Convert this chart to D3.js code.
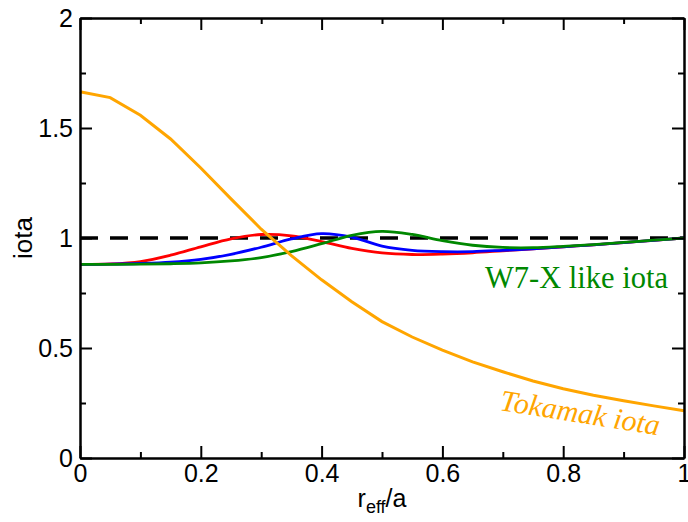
<!DOCTYPE html>
<html><head><meta charset="utf-8">
<script src="https://cdn.jsdelivr.net/npm/d3@7"></script>
<style>body{margin:0;background:#fff}svg{display:block}</style>
</head><body><svg id="c" width="688" height="522"></svg>
<script>
const xs = [0,0.05,0.1,0.15,0.2,0.25,0.3,0.35,0.4,0.45,0.5,0.55,0.6,0.65,0.7,0.75,0.8,0.85,0.9,0.95,1.0];
const tokamak = [1.665,1.638,1.558,1.45,1.318,1.178,1.04,0.92,0.81,0.71,0.62,0.55,0.49,0.437,0.392,0.35,0.315,0.285,0.26,0.237,0.215];
const w7xRed   = [0.880,0.882,0.893,0.922,0.960,0.996,1.016,1.010,0.984,0.953,0.932,0.925,0.927,0.933,0.942,0.951,0.960,0.969,0.979,0.989,1.0];
const w7xBlue  = [0.880,0.881,0.884,0.890,0.903,0.926,0.958,0.996,1.020,1.004,0.963,0.944,0.938,0.938,0.944,0.951,0.960,0.969,0.979,0.989,1.0];
const w7xGreen = [0.880,0.880,0.881,0.883,0.887,0.896,0.911,0.938,0.974,1.012,1.030,1.016,0.988,0.967,0.957,0.956,0.962,0.970,0.980,0.990,1.0];
const refLine = [1,1];
const refX = [0,1];
const xMajor = [0,0.2,0.4,0.6,0.8,1];
const xMajorLabels = ["0","0.2","0.4","0.6","0.8","1"];
const xMinor = [0.1,0.3,0.5,0.7,0.9];
const yMajor = [0,0.5,1,1.5,2];
const yMajorLabels = ["0","0.5","1","1.5","2"];
const yMinor = [0.25,0.75,1.25,1.75];

const svg = d3.select("#c");
const L=80,T=18,W=604,H=440;
const x = d3.scaleLinear().domain([0,1]).range([L,L+W]);
const y = d3.scaleLinear().domain([0,2]).range([T+H,T]);
const font = "'Liberation Sans', Arial, Helvetica, sans-serif";
const serif = "'Liberation Serif','Times New Roman',serif";

const g = svg.append("g");
g.append("path").datum(refX.map((d,i)=>[d,refLine[i]]))
 .attr("d", d3.line().x(d=>x(d[0])).y(d=>y(d[1])))
 .attr("fill","none").attr("stroke","#000").attr("stroke-width",3.5).attr("stroke-dasharray","18,12");

const smooth = d3.line().x(d=>x(d[0])).y(d=>y(d[1])).curve(d3.curveCatmullRom.alpha(0.5));
[[w7xRed,"#ff0000"],[w7xBlue,"#0000ff"],[w7xGreen,"#008800"]].forEach(([vals,col])=>{
  g.append("path").datum(xs.map((d,i)=>[d,vals[i]])).attr("d",smooth)
   .attr("fill","none").attr("stroke",col).attr("stroke-width",2.8);
});
g.append("path").datum(xs.map((d,i)=>[d,tokamak[i]]))
 .attr("d", d3.line().x(d=>x(d[0])).y(d=>y(d[1])))
 .attr("fill","none").attr("stroke","#ffa500").attr("stroke-width",3);

function styleAxis(sel){
  sel.selectAll("path.domain").attr("stroke","#000").attr("stroke-width",2);
  sel.selectAll(".tick line").attr("stroke","#000").attr("stroke-width",2);
  sel.selectAll("text").attr("font-family",font).attr("font-size",25).attr("fill","#000");
}
const ax = svg.append("g");
ax.append("g").attr("transform",`translate(0,${T+H})`)
  .call(d3.axisBottom(x).tickValues(xMajor).tickFormat((d,i)=>xMajorLabels[i]).tickSize(-12).tickSizeOuter(0).tickPadding(6)).call(styleAxis);
ax.append("g").attr("transform",`translate(0,${T+H})`)
  .call(d3.axisBottom(x).tickValues(xMinor).tickFormat("").tickSize(-6).tickSizeOuter(0)).call(styleAxis);
ax.append("g").attr("transform",`translate(0,${T})`)
  .call(d3.axisTop(x).tickValues(xMajor).tickFormat("").tickSize(-12).tickSizeOuter(0)).call(styleAxis);
ax.append("g").attr("transform",`translate(0,${T})`)
  .call(d3.axisTop(x).tickValues(xMinor).tickFormat("").tickSize(-6).tickSizeOuter(0)).call(styleAxis);
ax.append("g").attr("transform",`translate(${L},0)`)
  .call(d3.axisLeft(y).tickValues(yMajor).tickFormat((d,i)=>yMajorLabels[i]).tickSize(-12).tickSizeOuter(0).tickPadding(7)).call(styleAxis);
ax.append("g").attr("transform",`translate(${L},0)`)
  .call(d3.axisLeft(y).tickValues(yMinor).tickFormat("").tickSize(-6).tickSizeOuter(0)).call(styleAxis);
ax.append("g").attr("transform",`translate(${L+W},0)`)
  .call(d3.axisRight(y).tickValues(yMajor).tickFormat("").tickSize(-12).tickSizeOuter(0)).call(styleAxis);
ax.append("g").attr("transform",`translate(${L+W},0)`)
  .call(d3.axisRight(y).tickValues(yMinor).tickFormat("").tickSize(-6).tickSizeOuter(0)).call(styleAxis);

svg.append("text").attr("transform",`translate(32,${y(1)}) rotate(-90)`)
  .attr("text-anchor","middle").attr("font-family",font).attr("font-size",26).text("iota");
const xt = svg.append("text").attr("x",x(0.5)).attr("y",507).attr("text-anchor","middle")
  .attr("font-family",font).attr("font-size",25);
xt.append("tspan").text("r");
xt.append("tspan").attr("font-size",18).attr("dy",6).text("eff");
xt.append("tspan").attr("dy",-6).text("/a");

svg.append("text").attr("x",485).attr("y",288).attr("font-family",serif)
  .attr("font-size",30.5).attr("fill","#008800").text("W7-X like iota");
svg.append("text").attr("transform","translate(499,410) rotate(9)")
  .attr("font-family",serif).attr("font-style","italic")
  .attr("font-size",30).attr("fill","#ffa500").text("Tokamak iota");
</script></body></html>
